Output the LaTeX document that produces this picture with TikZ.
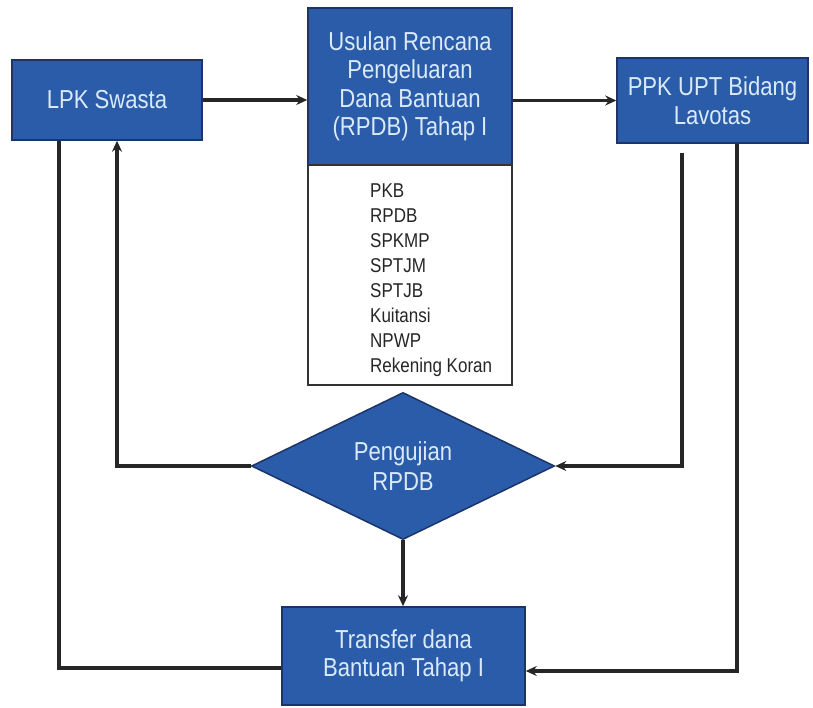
\documentclass[tikz,border=0pt]{standalone}
\usepackage{fontspec}
\setmainfont{Liberation Sans}[FakeStretch=0.85]
\usepackage{tikz}
\usetikzlibrary{arrows.meta,shapes.geometric}
\definecolor{biru}{RGB}{42,92,170}
\definecolor{birutua}{RGB}{28,52,105}
\definecolor{teks}{RGB}{218,234,250}

\begin{document}
\begin{tikzpicture}[
  x=1pt, y=-1pt,
  blok/.style={
    rectangle, draw=birutua, fill=biru, line width=1.5pt,
    text=teks, font=\fontsize{26}{28.5}\selectfont, align=center
  },
  cek/.style={
    diamond, draw=birutua, fill=biru, line width=1.5pt, inner sep=0pt,
    text=teks, font=\fontsize{26}{30}\selectfont, align=center
  },
  garis/.style={line width=3.2pt, draw=black!85},
  panah/.style={garis, -{Stealth[length=11pt,width=10pt]}}
]
  \useasboundingbox (0,0) rectangle (813,708);
  \node[blok, minimum width=190pt, minimum height=80pt] (lpk) at (107,100) {LPK Swasta};
  \node[blok, minimum width=204pt, minimum height=157pt] (usulan) at (410,86.5)
    {Usulan Rencana\\Pengeluaran\\Dana Bantuan\\(RPDB) Tahap I};
  \node[rectangle, draw=black!80, fill=white, line width=1.5pt,
    minimum width=204pt, minimum height=220pt] (dokumen) at (410,275) {};
  \node[anchor=west, align=left, inner sep=0pt, text=black!85,
    font=\fontsize{20}{25}\selectfont] (daftar) at (370,280)
    {PKB\\RPDB\\SPKMP\\SPTJM\\SPTJB\\Kuitansi\\NPWP\\Rekening Koran};
  \node[blok, minimum width=191pt, minimum height=85pt] (ppk) at (712.5,100.5)
    {PPK UPT Bidang\\Lavotas};
  \node[cek, minimum width=303pt, minimum height=144pt] (uji) at (403,466)
    {Pengujian\\RPDB};
  \node[blok, minimum width=243pt, minimum height=98pt] (transfer) at (403.5,656)
    {Transfer dana\\Bantuan Tahap I};
  \draw[panah] (lpk.east) -- (lpk.east -| usulan.west);
  \draw[panah] (usulan.east |- ppk.west) -- (ppk.west);
  \draw[panah] ([xshift=-30.5pt, yshift=-9pt]ppk.south) |- (uji.east);
  \draw[panah] ([xshift=24.5pt]ppk.south) |- ([yshift=-15pt]transfer.east);
  \draw[panah] (uji.west) -| ([xshift=10pt]lpk.south);
  \draw[panah] (uji.south) -- (uji.south |- transfer.north);
  \draw[garis] ([yshift=-12pt]transfer.west) -| ([xshift=-48pt]lpk.south);
\end{tikzpicture}
\end{document}
